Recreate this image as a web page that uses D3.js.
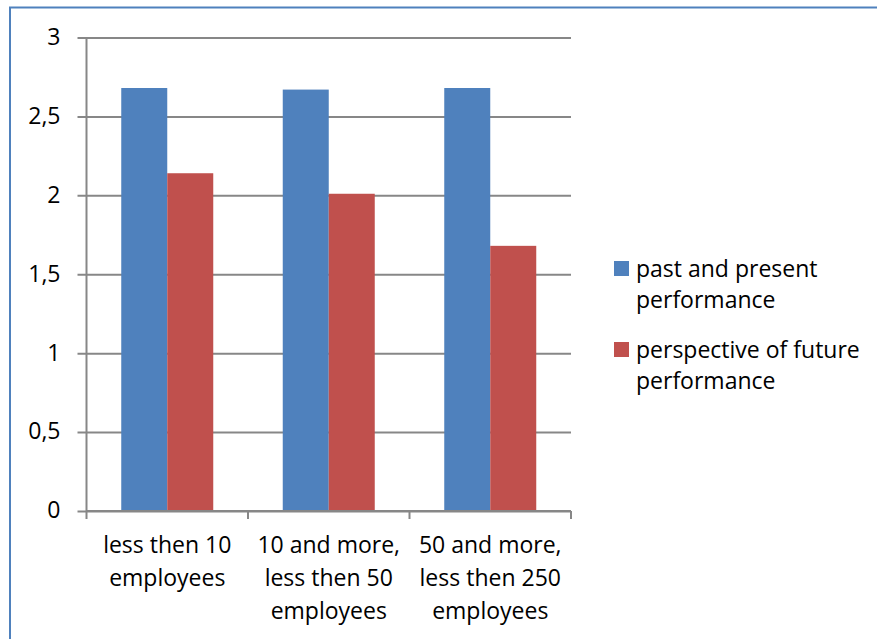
<!DOCTYPE html>
<html>
<head>
<meta charset="utf-8">
<script src="https://cdn.jsdelivr.net/npm/d3@7"></script>
<style>
  body { margin: 0; background: #fff; }
  text { font-family: "Open Sans", sans-serif; fill: #000; }
</style>
</head>
<body>
<div id="container"></div>
<script>
// Data.
const categories = ['less then 10 employees', '10 and more, less then 50 employees', '50 and more, less then 250 employees'];
const categoryLines = [
  ['less then 10', 'employees'],
  ['10 and more,', 'less then 50', 'employees'],
  ['50 and more,', 'less then 250', 'employees']
];
const seriesNames = ['past and present performance', 'perspective of future performance'];
const legendLines = [['past and present', 'performance'], ['perspective of future', 'performance']];
const pastValues = [2.68, 2.67, 2.68];
const futureValues = [2.14, 2.01, 1.68];
const yTicks = [0, 0.5, 1, 1.5, 2, 2.5, 3];
const colours = ['#4F81BD', '#C0504D'];

// Container SVG.
const W = 877, H = 639;
const plot = { left: 86.5, right: 571, top: 37.5, bottom: 511 };
const fontSize = 23;

const svg = d3.select('#container')
  .append('svg')
  .attr('width', W)
  .attr('height', H);

// Outer frame.
svg.append('rect')
  .attr('x', 10).attr('y', 7.5)
  .attr('width', W).attr('height', H)
  .attr('fill', '#fff')
  .attr('stroke', '#4F81BD')
  .attr('stroke-width', 2);

// Scales.
const y = d3.scaleLinear().domain([0, 3]).range([plot.bottom, plot.top]);
const x = d3.scaleBand().domain(categories).range([plot.left, plot.right]).paddingInner(0).paddingOuter(0);
const innerPad = 34.75;
const xs = d3.scaleBand().domain(seriesNames).range([innerPad, x.bandwidth() - innerPad]);

const fmt = d => String(d).replace('.', ',');

// Gridlines + y labels.
const gy = svg.append('g')
  .attr('transform', `translate(${plot.left - 9},0)`)
  .call(d3.axisLeft(y).tickValues(yTicks).tickSize(-(plot.right - plot.left + 9)).tickPadding(17).tickFormat(fmt));
gy.select('.domain').remove();
gy.selectAll('.tick line').attr('stroke', '#878787').attr('stroke-width', 2);
gy.selectAll('.tick text')
  .attr('font-size', fontSize)
  .attr('font-family', '"Open Sans", sans-serif')
  .attr('dy', '0.3em');

// Bars.
const rows = categories.map((c, i) => ({ c, vals: [pastValues[i], futureValues[i]] }));
const groups = svg.append('g').selectAll('g')
  .data(rows).enter().append('g')
  .attr('transform', d => `translate(${x(d.c)},0)`);
groups.selectAll('rect')
  .data(d => d.vals.map((v, k) => ({ v, k })))
  .enter().append('rect')
  .attr('x', d => xs(seriesNames[d.k]))
  .attr('width', xs.bandwidth())
  .attr('y', d => y(d.v))
  .attr('height', d => y(0) - y(d.v))
  .attr('fill', d => colours[d.k]);

// Y axis line.
svg.append('line')
  .attr('x1', plot.left).attr('x2', plot.left)
  .attr('y1', plot.top).attr('y2', plot.bottom)
  .attr('stroke', '#878787').attr('stroke-width', 2);

// X axis line and boundary ticks.
svg.append('line')
  .attr('x1', plot.left).attr('x2', plot.right)
  .attr('y1', plot.bottom).attr('y2', plot.bottom)
  .attr('stroke', '#878787').attr('stroke-width', 2);
const bounds = categories.map(c => x(c)).concat([x(categories[categories.length - 1]) + x.bandwidth()]);
svg.append('g').selectAll('line')
  .data(bounds).enter().append('line')
  .attr('x1', d => d).attr('x2', d => d)
  .attr('y1', plot.bottom).attr('y2', plot.bottom + 8)
  .attr('stroke', '#878787').attr('stroke-width', 2);

// X labels.
const xl = svg.append('g').selectAll('text')
  .data(categories).enter().append('text')
  .attr('x', d => x(d) + x.bandwidth() / 2)
  .attr('y', 553)
  .attr('text-anchor', 'middle')
  .attr('font-size', fontSize);
xl.selectAll('tspan')
  .data((d, i) => categoryLines[i])
  .enter().append('tspan')
  .attr('x', function () { return this.parentNode.getAttribute('x'); })
  .attr('dy', (d, i) => i === 0 ? 0 : 33)
  .text(d => d);

// Legend.
const legend = svg.append('g').selectAll('g')
  .data(seriesNames).enter().append('g')
  .attr('transform', (d, i) => `translate(614,${261 + i * 81})`);
legend.append('rect')
  .attr('width', 15).attr('height', 15)
  .attr('fill', (d, i) => colours[i]);
const lt = legend.append('text')
  .attr('x', 22).attr('y', 16)
  .attr('font-size', fontSize);
lt.selectAll('tspan')
  .data((d, i) => legendLines[i])
  .enter().append('tspan')
  .attr('x', 22)
  .attr('dy', (d, i) => i === 0 ? 0 : 31)
  .text(d => d);
</script>
</body>
</html>
